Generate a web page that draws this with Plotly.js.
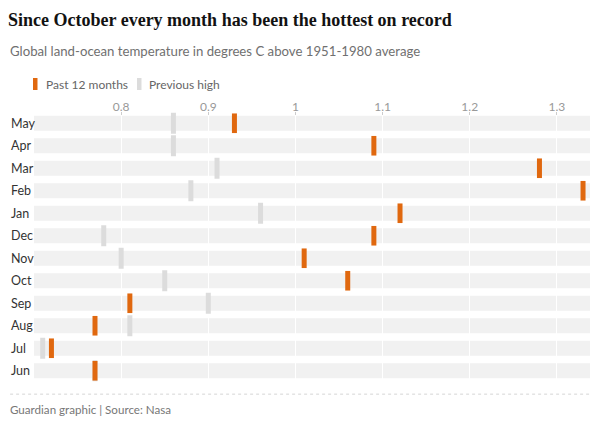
<!DOCTYPE html>
<html>
<head>
<meta charset="utf-8">
<script src="https://cdn.plot.ly/plotly-3.0.1.min.js"></script>
<style>
  html, body { margin: 0; padding: 0; background: #fff; }
  #chart { width: 600px; height: 425px; }
</style>
</head>
<body>
<div id="chart"></div>
<script>
// Months, top to bottom
const months = ["May", "Apr", "Mar", "Feb", "Jan", "Dec", "Nov", "Oct", "Sep", "Aug", "Jul", "Jun"];
// Past 12 months anomaly (°C above 1951-1980 average)
const past12 = [0.93, 1.09, 1.28, 1.33, 1.12, 1.09, 1.01, 1.06, 0.81, 0.77, 0.72, 0.77];
// Previous record high for each month
const prevHigh = [0.86, 0.86, 0.91, 0.88, 0.96, 0.78, 0.80, 0.85, 0.90, 0.81, 0.71, 0.77];
const tickVals = [0.8, 0.9, 1.0, 1.1, 1.2, 1.3];
const tickText = ["0.8", "0.9", "1", "1.1", "1.2", "1.3"];

const ORANGE = "#e0680f";
const GREY = "#dcdcdc";
const BAND = "#f1f1f1";
const SANS = "Lato, 'Noto Sans', sans-serif";

const traces = [
  {
    type: "scatter", mode: "markers", name: "Previous high",
    x: prevHigh, y: months,
    marker: { symbol: "line-ns", size: 15, line: { width: 5, color: GREY } },
    hoverinfo: "x+y", showlegend: false
  },
  {
    type: "scatter", mode: "markers", name: "Past 12 months",
    x: past12, y: months,
    marker: { symbol: "line-ns", size: 14, line: { width: 5, color: ORANGE } },
    hoverinfo: "x+y", showlegend: false
  }
];

const shapes = months.map((m, i) => ({
  type: "rect", layer: "below", xref: "paper", yref: "y",
  x0: 0, x1: 1, y0: i - 0.333, y1: i + 0.333,
  fillcolor: BAND, line: { width: 0 }
}));
// footer dotted rule
shapes.push({
  type: "line", xref: "paper", yref: "paper", layer: "above",
  x0: -0.043, x1: 1, y0: -0.045, y1: -0.045,
  line: { color: "#d6d6d6", width: 1, dash: "dot" }
});
// legend swatches
shapes.push({
  type: "rect", xref: "paper", yref: "paper",
  x0: (33 - 34) / 556, x1: (37.5 - 34) / 556,
  y0: (382 - 90) / 270, y1: (382 - 78) / 270,
  fillcolor: ORANGE, line: { width: 0 }
});
shapes.push({
  type: "rect", xref: "paper", yref: "paper",
  x0: (137 - 34) / 556, x1: (141.5 - 34) / 556,
  y0: (382 - 90) / 270, y1: (382 - 78) / 270,
  fillcolor: GREY, line: { width: 0 }
});

const annotations = months.map((m, i) => ({
  xref: "paper", yref: "y", x: 0, y: m, xshift: -25,
  xanchor: "left", yanchor: "middle", showarrow: false,
  text: m, font: { family: SANS, size: 12.5, color: "#333333" }
}));
annotations.push({
  xref: "paper", yref: "paper", x: 0, y: 1, xshift: -26, yshift: 61,
  xanchor: "left", yanchor: "middle", showarrow: false,
  text: "Global land-ocean temperature in degrees C above 1951-1980 average",
  font: { family: SANS, size: 13.2, color: "#707070" }
});
annotations.push({
  xref: "paper", yref: "paper", x: (44 - 34) / 556, y: 1, yshift: 28,
  xanchor: "left", yanchor: "middle", showarrow: false,
  text: "Past 12 months", font: { family: SANS, size: 12, color: "#666666" }
});
annotations.push({
  xref: "paper", yref: "paper", x: (147 - 34) / 556, y: 1, yshift: 28,
  xanchor: "left", yanchor: "middle", showarrow: false,
  text: "Previous high", font: { family: SANS, size: 12, color: "#666666" }
});
annotations.push({
  xref: "paper", yref: "paper", x: 0, y: 0, xshift: -26, yshift: -27,
  xanchor: "left", yanchor: "middle", showarrow: false,
  text: "Guardian graphic | Source: Nasa",
  font: { family: SANS, size: 11.6, color: "#777777" }
});

const layout = {
  width: 600, height: 425,
  margin: { l: 34, r: 10, t: 112, b: 43 },
  paper_bgcolor: "#ffffff", plot_bgcolor: "#ffffff",
  title: {
    text: "<b>Since October every month has been the hottest on record</b>",
    xref: "container", yref: "container", x: 8 / 600, xanchor: "left",
    y: 1 - 20 / 425, yanchor: "middle",
    font: { family: "'Liberation Serif', serif", size: 18, color: "#121212" }
  },
  xaxis: {
    side: "top", range: [0.70, 1.338],
    tickvals: tickVals, ticktext: tickText,
    ticks: "inside", ticklen: 3, tickcolor: "#cccccc", tickwidth: 1,
    ticklabelstandoff: -2,
    tickfont: { family: SANS, size: 12, color: "#999999" },
    showgrid: true, gridcolor: "#ffffff", gridwidth: 1,
    zeroline: false, showline: false, fixedrange: true
  },
  yaxis: {
    type: "category", categoryorder: "array", categoryarray: months,
    range: [months.length - 0.5, -0.5], autorange: false,
    showticklabels: false, ticks: "",
    showgrid: false, zeroline: false, showline: false, fixedrange: true
  },
  shapes: shapes,
  annotations: annotations,
  showlegend: false,
  hovermode: "closest"
};

Plotly.newPlot("chart", traces, layout, { displayModeBar: false, staticPlot: true });
</script>
</body>
</html>
